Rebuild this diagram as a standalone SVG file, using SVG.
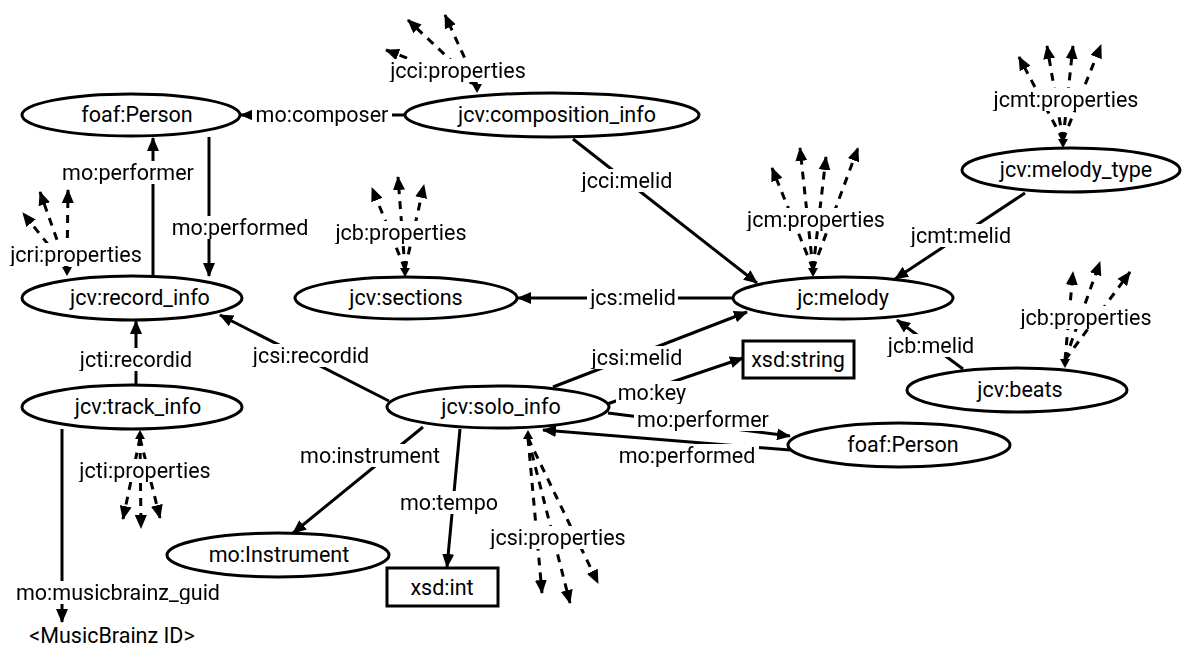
<svg xmlns="http://www.w3.org/2000/svg" width="1182" height="646" viewBox="0 0 1182 646">
<style>
.n{fill:#fff;stroke:#000;stroke-width:3}
.t{font-family:Roboto,"Liberation Sans",sans-serif;font-size:21.5px;fill:#000;text-anchor:middle}
.e{stroke:#000;stroke-width:3;fill:none;marker-end:url(#ah)}
.d{stroke:#000;stroke-width:3;fill:none;stroke-dasharray:8 7;marker-end:url(#ah)}
.l{filter:url(#bg)}
</style>
<defs>
<marker id="ah" viewBox="0 0 14 12" refX="13" refY="6" markerWidth="14" markerHeight="12" markerUnits="userSpaceOnUse" orient="auto"><path d="M0,0 L14,6 L0,12 z"/></marker>
<filter id="bg" x="-0.02" y="0.05" width="1.04" height="0.9" color-interpolation-filters="sRGB"><feFlood flood-color="#fff" result="f"/><feMerge><feMergeNode in="f"/><feMergeNode in="SourceGraphic"/></feMerge></filter>
</defs>
<rect width="1182" height="646" fill="#fff"/>
<g id="connectors">
<line class="e" x1="405" y1="115" x2="241" y2="115"/>
<line class="e" x1="153" y1="276" x2="153" y2="138"/>
<line class="e" x1="209" y1="137" x2="209" y2="276"/>
<line class="e" x1="136" y1="385" x2="136" y2="321"/>
<line class="e" x1="389" y1="401" x2="220" y2="315"/>
<line class="e" x1="733" y1="298" x2="518" y2="298"/>
<line class="e" x1="573" y1="139" x2="757" y2="283"/>
<line class="e" x1="1025" y1="193" x2="895" y2="279"/>
<line class="e" x1="553" y1="387" x2="747" y2="312"/>
<line class="e" x1="963" y1="369" x2="897" y2="320"/>
<line class="e" x1="607" y1="404" x2="743" y2="358"/>
<line class="e" x1="608" y1="413" x2="790" y2="436"/>
<line class="e" x1="790" y1="450" x2="543" y2="430"/>
<line class="e" x1="423" y1="427" x2="293" y2="533"/>
<line class="e" x1="460" y1="429" x2="447" y2="567"/>
<line class="e" x1="62" y1="429" x2="62" y2="622"/>
<g id="fan-jcci">
<path class="d" d="M477,85 L386,50"/><path class="d" d="M477,85 L408,20"/><path class="d" d="M477,85 L445,15"/>
<path d="M472,84 L482,84 L477,93 z"/>
</g>
<g id="fan-jcb-sections">
<path class="d" d="M405,269 L372,188"/><path class="d" d="M405,269 L398,177"/><path class="d" d="M405,269 L424,185"/>
<path d="M400,268 L410,268 L405,277 z"/>
</g>
<g id="fan-jcm">
<path class="d" d="M813,269 L772,168"/><path class="d" d="M813,269 L800,148"/><path class="d" d="M813,269 L826,157"/><path class="d" d="M813,269 L858,148"/>
<path d="M808,268 L818,268 L813,277 z"/>
</g>
<g id="fan-jcmt">
<path class="d" d="M1063,140 L1019,57"/><path class="d" d="M1063,140 L1047,46"/><path class="d" d="M1063,140 L1073,46"/><path class="d" d="M1063,140 L1101,45"/>
<path d="M1058,139 L1068,139 L1063,148 z"/>
</g>
<g id="fan-jcri">
<path class="d" d="M67,268 L23,213"/><path class="d" d="M67,268 L40,192"/><path class="d" d="M67,268 L68,190"/>
<path d="M62,267 L72,267 L67,276 z"/>
</g>
<g id="fan-jcti">
<path class="d" d="M140,438 L123,519"/><path class="d" d="M140,438 L141,528"/><path class="d" d="M140,438 L160,518"/>
<path d="M135,439 L145,439 L140,430 z"/>
</g>
<g id="fan-jcsi">
<path class="d" d="M528,438 L542,593"/><path class="d" d="M528,438 L570,603"/><path class="d" d="M528,438 L598,583"/>
<path d="M523,439 L533,439 L528,430 z"/>
</g>
<g id="fan-jcb-beats">
<path class="d" d="M1065,360 L1073,272"/><path class="d" d="M1065,360 L1100,262"/><path class="d" d="M1065,360 L1130,272"/>
<path d="M1060,359 L1070,359 L1065,368 z"/>
</g>
<g id="edge-labels">
<text class="t l" x="322" y="122">mo:composer</text>
<text class="t l" x="128" y="180">mo:performer</text>
<text class="t l" x="240" y="235">mo:performed</text>
<text class="t l" x="136" y="367">jcti:recordid</text>
<text class="t l" x="311" y="363">jcsi:recordid</text>
<text class="t l" x="633" y="305">jcs:melid</text>
<text class="t l" x="627" y="188">jcci:melid</text>
<text class="t l" x="961" y="243">jcmt:melid</text>
<text class="t l" x="637" y="365">jcsi:melid</text>
<text class="t l" x="931" y="353">jcb:melid</text>
<text class="t l" x="652" y="400">mo:key</text>
<text class="t l" x="703" y="427">mo:performer</text>
<text class="t l" x="687" y="463">mo:performed</text>
<text class="t l" x="370" y="463">mo:instrument</text>
<text class="t l" x="449" y="510">mo:tempo</text>
<text class="t l" x="118" y="600">mo:musicbrainz_guid</text>
<text class="t l" x="458" y="78">jcci:properties</text>
<text class="t l" x="401" y="240">jcb:properties</text>
<text class="t l" x="816" y="227">jcm:properties</text>
<text class="t l" x="1066" y="107">jcmt:properties</text>
<text class="t l" x="76" y="262">jcri:properties</text>
<text class="t l" x="145" y="478">jcti:properties</text>
<text class="t l" x="558" y="545">jcsi:properties</text>
<text class="t l" x="1086" y="325">jcb:properties</text>
</g>
</g>
<g id="foaf-person-1"><ellipse class="n" cx="131" cy="115" rx="109" ry="21"/><text class="t" x="137" y="122">foaf:Person</text></g>
<g id="composition-info"><ellipse class="n" cx="552" cy="115" rx="147" ry="22"/><text class="t" x="557" y="122">jcv:composition_info</text></g>
<g id="melody-type"><ellipse class="n" cx="1071" cy="170" rx="109" ry="22"/><text class="t" x="1076" y="177">jcv:melody_type</text></g>
<g id="melody"><ellipse class="n" cx="843" cy="298" rx="110" ry="21"/><text class="t" x="843" y="305">jc:melody</text></g>
<g id="sections"><ellipse class="n" cx="406" cy="298" rx="111" ry="21"/><text class="t" x="406" y="305">jcv:sections</text></g>
<g id="record-info"><ellipse class="n" cx="132" cy="298" rx="110" ry="22"/><text class="t" x="140" y="305">jcv:record_info</text></g>
<g id="track-info"><ellipse class="n" cx="132" cy="407" rx="110" ry="22"/><text class="t" x="138" y="414">jcv:track_info</text></g>
<g id="solo-info"><ellipse class="n" cx="498" cy="407" rx="111" ry="21"/><text class="t" x="501" y="414">jcv:solo_info</text></g>
<g id="beats"><ellipse class="n" cx="1017" cy="390" rx="110" ry="22"/><text class="t" x="1020" y="397">jcv:beats</text></g>
<g id="foaf-person-2"><ellipse class="n" cx="899" cy="445" rx="111" ry="22"/><text class="t" x="903" y="452">foaf:Person</text></g>
<g id="instrument"><ellipse class="n" cx="278" cy="555" rx="111" ry="22"/><text class="t" x="279" y="562">mo:Instrument</text></g>
<g id="xsd-string"><rect class="n" x="743" y="341" width="111" height="37"/><text class="t" x="798" y="367">xsd:string</text></g>
<g id="xsd-int"><rect class="n" x="387" y="568" width="111" height="38"/><text class="t" x="442" y="595">xsd:int</text></g>
<g id="musicbrainz-id"><text class="t" x="112" y="643">&lt;MusicBrainz ID&gt;</text></g>
</svg>
